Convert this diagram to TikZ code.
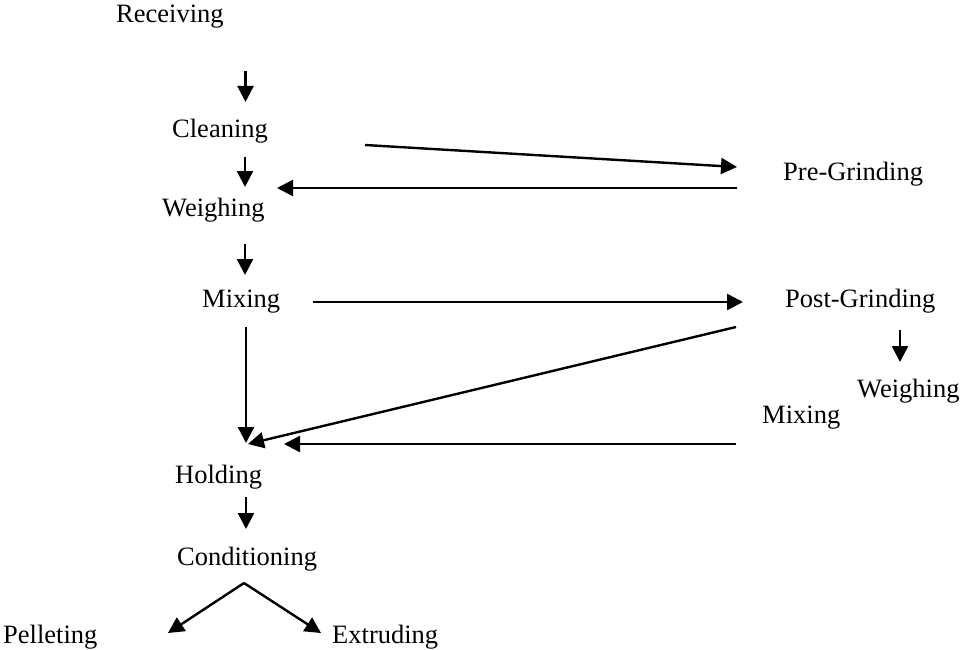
\documentclass[tikz,border=0pt]{standalone}
\usepackage{fontspec}
\setmainfont{Liberation Serif}
\usetikzlibrary{arrows.meta}
\begin{document}
\begin{tikzpicture}[x=1pt,y=-1pt,
  lbl/.style={anchor=base west,inner sep=0pt,font=\fontsize{26.5}{30}\selectfont},
  flow/.style={line width=2.4pt,-{Triangle[length=16pt,width=16pt]}}]
\useasboundingbox (0,0) rectangle (963,650);
% labels
\node[lbl] (rec)  at (116,23)  {Receiving};
\node[lbl] (cle)  at (172,137) {Cleaning};
\node[lbl] (wei)  at (162,216) {Weighing};
\node[lbl] (mix)  at (202,307) {Mixing};
\node[lbl] (hol)  at (175,483) {Holding};
\node[lbl] (con)  at (177,565) {Conditioning};
\node[lbl] (pel)  at (3,643)   {Pelleting};
\node[lbl] (ext)  at (332,643) {Extruding};
\node[lbl] (pre)  at (783,180) {Pre-Grinding};
\node[lbl] (post) at (785,307) {Post-Grinding};
\node[lbl] (wei2) at (857,397) {Weighing};
\node[lbl] (mix2) at (762,423) {Mixing};
% connector end points
\coordinate (a1) at (245.5,71);  \coordinate (a2) at (245.5,102);
\coordinate (b1) at (245,157);   \coordinate (b2) at (245,187);
\coordinate (c1) at (365,145);   \coordinate (c2) at (737,167);
\coordinate (d1) at (737,188);   \coordinate (d2) at (277,188);
\coordinate (e1) at (245,244);   \coordinate (e2) at (245,275);
\coordinate (f1) at (313,302);   \coordinate (f2) at (743,302);
\coordinate (g1) at (246,327);   \coordinate (g2) at (246,443);
\coordinate (h1) at (736,327);   \coordinate (h2) at (248,444);
\coordinate (i1) at (736,444);   \coordinate (i2) at (284,444);
\coordinate (j1) at (900,330);   \coordinate (j2) at (900,362);
\coordinate (k1) at (246,497);   \coordinate (k2) at (246,529);
\coordinate (apex) at (244,583);
\coordinate (lp) at (168,633);   \coordinate (rp) at (321,633);
% connectors
\draw[flow] (a1) -- (a2);
\draw[flow] (b1) -- (b2);
\draw[flow] (c1) -- (c2);
\draw[flow] (d1) -- (d2);
\draw[flow] (e1) -- (e2);
\draw[flow] (f1) -- (f2);
\draw[flow] (g1) -- (g2);
\draw[flow] (h1) -- (h2);
\draw[flow] (i1) -- (i2);
\draw[flow] (j1) -- (j2);
\draw[flow] (k1) -- (k2);
\draw[flow] (apex) -- (lp);
\draw[flow] (apex) -- (rp);
\end{tikzpicture}
\end{document}
